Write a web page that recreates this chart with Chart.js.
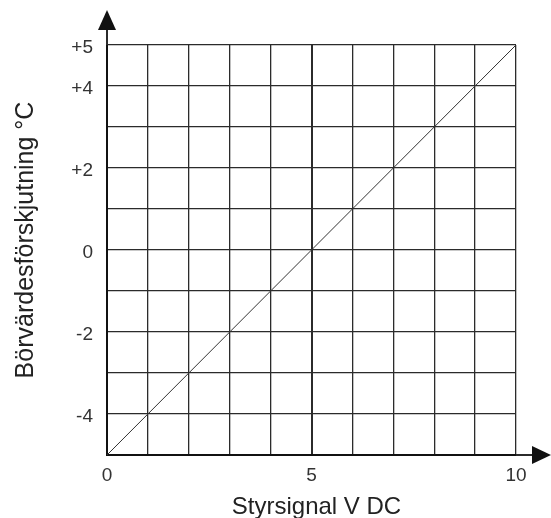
<!DOCTYPE html>
<html>
<head>
<meta charset="utf-8">
<script src="https://cdn.jsdelivr.net/npm/chart.js@4"></script>
<style>
  html, body { margin: 0; padding: 0; background: #fff; }
  #wrap { width: 551px; height: 518px; }
</style>
</head>
<body>
<div id="wrap"><canvas id="grafico"></canvas></div>
<script>
// Datos del gráfico
const xStyrsignal = [0, 10];
const yForskjutning = [-5, 5];
const xTickValues = [0, 5, 10];
const xTickLabels = ["0", "5", "10"];
const yTickValues = [5, 4, 2, 0, -2, -4];
const yTickLabels = ["+5", "+4", "+2", "0", "-2", "-4"];
const tituloX = "Styrsignal V DC";
const tituloY = "Börvärdesförskjutning °C";

const tinta = "#2b2b2b";
const fuente = "'Liberation Sans', Arial, sans-serif";

// Flechas al final de los ejes y títulos de los ejes
const flechas = {
    id: "flechas",
    afterDraw(chart) {
        const { ctx, chartArea: a } = chart;
        ctx.save();
        ctx.strokeStyle = tinta;
        ctx.fillStyle = "#111";
        ctx.lineWidth = 2;
        ctx.beginPath();
        ctx.moveTo(a.left, a.top);
        ctx.lineTo(a.left, 28);
        ctx.moveTo(a.right, a.bottom);
        ctx.lineTo(534, a.bottom);
        ctx.stroke();
        ctx.beginPath();
        ctx.moveTo(a.left, 10);
        ctx.lineTo(a.left - 9, 30);
        ctx.lineTo(a.left + 9, 30);
        ctx.closePath();
        ctx.fill();
        ctx.beginPath();
        ctx.moveTo(551, a.bottom);
        ctx.lineTo(532, a.bottom - 9);
        ctx.lineTo(532, a.bottom + 9);
        ctx.closePath();
        ctx.fill();

        // títulos
        ctx.fillStyle = "#222";
        ctx.font = "24px " + fuente;
        ctx.textAlign = "center";
        ctx.textBaseline = "alphabetic";
        ctx.fillText(tituloX, (a.left + a.right) / 2 + 5, 514);
        ctx.font = "25px " + fuente;
        ctx.translate(33, 240);
        ctx.rotate(-Math.PI / 2);
        ctx.fillText(tituloY, 0, 0);
        ctx.restore();
    },
};

const ctx = document.querySelector("#grafico").getContext("2d");
const myChart = new Chart(ctx, {
    type: "scatter",
    data: {
        datasets: [
            {
                data: xStyrsignal.map((x, i) => ({ x: x, y: yForskjutning[i] })),
                showLine: true,
                borderColor: "#333",
                borderWidth: 1,
                pointRadius: 0,
            },
        ],
    },
    options: {
        responsive: true,
        maintainAspectRatio: false,
        animation: false,
        layout: { padding: { top: 45, right: 35, left: 0, bottom: 0 } },
        plugins: { legend: { display: false }, tooltip: { enabled: false } },
        scales: {
            x: {
                type: "linear",
                min: 0,
                max: 10,
                afterFit: (s) => { s.height = 63; },
                afterBuildTicks: (s) => {
                    s.ticks = [];
                    for (let v = 0; v <= 10; v++) s.ticks.push({ value: v });
                },
                ticks: {
                    autoSkip: false,
                    maxRotation: 0,
                    padding: 9,
                    color: "#333",
                    font: { family: fuente, size: 19 },
                    callback: (v) => {
                        const i = xTickValues.indexOf(v);
                        return i >= 0 ? xTickLabels[i] : "";
                    },
                },
                grid: {
                    color: tinta,
                    lineWidth: (c) => (c.tick && c.tick.value === 5 ? 2 : 1.3),
                    drawTicks: false,
                },
                border: { display: true, color: "#111", width: 2 },
            },
            y: {
                type: "linear",
                min: -5,
                max: 5,
                afterFit: (s) => { s.width = 107; },
                afterBuildTicks: (s) => {
                    s.ticks = [];
                    for (let v = -5; v <= 5; v++) s.ticks.push({ value: v });
                },
                ticks: {
                    autoSkip: false,
                    padding: 14,
                    labelOffset: 3,
                    color: "#333",
                    font: { family: fuente, size: 19 },
                    callback: (v) => {
                        const i = yTickValues.indexOf(v);
                        return i >= 0 ? yTickLabels[i] : "";
                    },
                },
                grid: { color: tinta, lineWidth: 1.3, drawTicks: false },
                border: { display: true, color: "#111", width: 2 },
            },
        },
    },
    plugins: [flechas],
});
</script>
</body>
</html>
